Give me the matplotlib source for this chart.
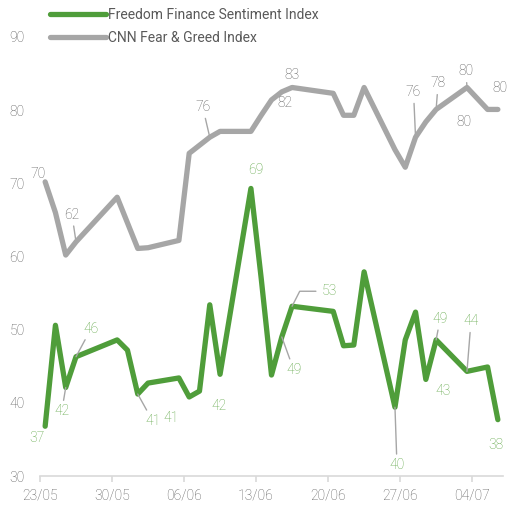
import matplotlib
matplotlib.use("Agg")
import matplotlib.pyplot as plt
import pandas as pd

# trading days shown on the chart
dates = ["2023-05-23", "2023-05-24", "2023-05-25", "2023-05-26", "2023-05-30", "2023-05-31",
         "2023-06-01", "2023-06-02", "2023-06-05", "2023-06-06", "2023-06-07", "2023-06-08",
         "2023-06-09", "2023-06-12", "2023-06-13", "2023-06-14", "2023-06-15", "2023-06-16",
         "2023-06-20", "2023-06-21", "2023-06-22", "2023-06-23", "2023-06-26", "2023-06-27",
         "2023-06-28", "2023-06-29", "2023-06-30", "2023-07-03", "2023-07-05", "2023-07-06"]

freedom = [36.8, 50.6, 42.1, 46.3, 48.6, 47.2, 41.2, 42.7, 43.4, 40.8, 41.6, 53.4,
           43.9, 69.3, 57.0, 43.8, 49.0, 53.2, 52.5, 47.8, 47.9, 57.9, 39.4, 48.6,
           52.4, 43.2, 48.6, 44.3, 44.9, 37.7]

cnn = [70.2, 66.0, 60.2, 62.0, 68.1, 64.6, 61.1, 61.2, 62.2, 74.1, 75.2, 76.3,
       77.1, 77.1, 79.3, 81.4, 82.5, 83.1, 82.3, 79.3, 79.3, 83.1, 74.6, 72.2,
       76.3, 78.4, 80.1, 83.1, 80.1, 80.1]

tick_dates = ["2023-05-23", "2023-05-30", "2023-06-06", "2023-06-13",
              "2023-06-20", "2023-06-27", "2023-07-04"]

# data labels: (index of point, text, offset in pixels, leader line?)
cnn_labels = [(0, "70", (-7, 8), False), (3, "62", (-4, 27), True),
              (11, "76", (-7, 30), True), (16, "82", (3, -11), False),
              (17, "83", (0, 12), False), (24, "76", (-2, 45), True),
              (26, "78", (2, 26), True), (27, "80", (-1, 16), True),
              (28, "80", (-24, -13), False), (29, "80", (2, 21), False)]

freedom_labels = [(0, "37", (-8, -12), False), (2, "42", (-4, -24), True),
                  (3, "46", (15, 28), True), (6, "41", (15, -27), True),
                  (7, "41", (23, -35), False), (12, "42", (-1, -32), False),
                  (13, "69", (5, 18), False), (16, "49", (12, -33), True),
                  (22, "40", (2, -58), True), (25, "43", (17, -12), False),
                  (26, "49", (4, 21), True), (27, "44", (4, 50), True),
                  (29, "38", (-2, -25), False)]

GREEN = "#4f9d3a"
GREEN_TXT = "#5ea645"
GREY = "#a6a6a6"
TXT = "#595959"

plt.rcParams["font.family"] = ["Roboto", "DejaVu Sans"]
plt.rcParams["font.weight"] = "light"

start = pd.Timestamp(dates[0])
x = [(pd.Timestamp(d) - start).days + 0.5 for d in dates]
xt = [(pd.Timestamp(d) - start).days for d in tick_dates]
xt_labels = [pd.Timestamp(d).strftime("%d/%m") for d in tick_dates]

fig = plt.figure(figsize=(5.09, 5.05), dpi=100)
ax = fig.add_axes([40 / 509, 29 / 505, 463 / 509, 439 / 505])

l1, = ax.plot(x, freedom, color=GREEN, lw=3.8, solid_joinstyle="round", solid_capstyle="round",
              label="Freedom Finance Sentiment Index", zorder=3)
l2, = ax.plot(x, cnn, color=GREY, lw=3.8, solid_joinstyle="round", solid_capstyle="round",
              label="CNN Fear & Greed Index", zorder=2)

ax.set_xlim(0, 45)
ax.set_ylim(30, 90)
ax.set_yticks(range(30, 91, 10))
ax.set_xticks(xt)
ax.set_xticklabels(xt_labels)

for s in ["top", "right", "left"]:
    ax.spines[s].set_visible(False)
ax.spines["bottom"].set_color("#d9d9d9")
ax.spines["bottom"].set_linewidth(1.2)
ax.tick_params(axis="x", direction="out", length=4, width=1.2, color="#d9d9d9",
               labelcolor=TXT, labelsize=10, pad=5)
ax.tick_params(axis="y", length=0, labelcolor=TXT, labelsize=10, pad=11)


def add_labels(values, labels, color):
    for i, txt, off, leader in labels:
        kw = {}
        if leader:
            kw["arrowprops"] = dict(arrowstyle="-", color=GREY, lw=1, shrinkA=1, shrinkB=0)
        ax.annotate(txt, (x[i], values[i]), xytext=off, textcoords="offset pixels",
                    ha="center", va="center", fontsize=10, color=color, zorder=5, **kw)


add_labels(cnn, cnn_labels, TXT)
add_labels(freedom, freedom_labels, GREEN_TXT)

# "53" label with a bent leader line
ax.annotate("53", (x[17], freedom[17]), xytext=(37, 15), textcoords="offset pixels",
            ha="center", va="center", fontsize=10, color=GREEN_TXT, zorder=5,
            arrowprops=dict(arrowstyle="-", color=GREY, lw=1, shrinkA=2, shrinkB=0,
                            relpos=(0, 0.5), connectionstyle="angle,angleA=0,angleB=63,rad=0"))

fig.legend(handles=[l1, l2], loc="upper left", bbox_to_anchor=(50 / 509, 1 - 8 / 505),
           frameon=False, fontsize=10, labelcolor=TXT, handlelength=4.0,
           handletextpad=0.2, labelspacing=0.62, borderpad=0, borderaxespad=0,
           prop={"size": 10, "weight": "normal"})

fig.savefig("out.png", dpi=100)
